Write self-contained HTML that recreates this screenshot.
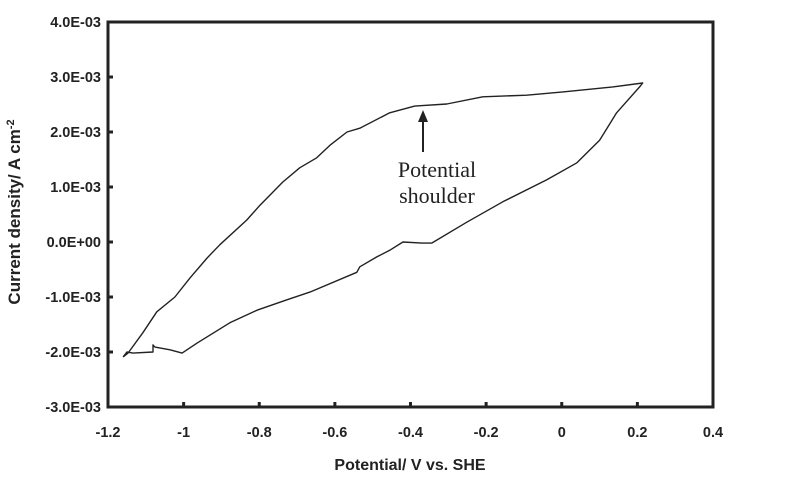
<!DOCTYPE html>
<html><head><meta charset="utf-8"><style>
body{margin:0;background:#fff}
svg{display:block}
.tk{font-family:"Liberation Sans",Arial,sans-serif;font-weight:bold;font-size:14.5px;fill:#222}
.ti{font-family:"Liberation Sans",Arial,sans-serif;font-weight:bold;font-size:16px;fill:#222}
.an{font-family:"Liberation Serif",serif;font-size:22px;fill:#222}
</style></head><body>
<svg id="chart" width="790" height="481" viewBox="0 0 790 481">
<g id="axes"></g>
<g id="series"></g>
<g>
<line x1="423" y1="152" x2="423" y2="118" stroke="#222" stroke-width="2"/>
<polygon points="423,110 418,122 428,122" fill="#222"/>
<text class="an" x="437" y="177" text-anchor="middle">Potential</text>
<text class="an" x="437" y="203" text-anchor="middle">shoulder</text>
</g>
<text class="ti" x="410" y="470" text-anchor="middle">Potential/ V vs. SHE</text>
<text class="ti" transform="translate(20,212) rotate(-90)" text-anchor="middle" font-size="17" style="font-size:17px">Current density/ A cm<tspan dy="-6" font-size="11">-2</tspan></text>
</svg>
<script>
const xTicks=[-1.2,-1,-0.8,-0.6,-0.4,-0.2,0,0.2,0.4];
const xTickLabels=["-1.2","-1","-0.8","-0.6","-0.4","-0.2","0","0.2","0.4"];
const yTicks=[4,3,2,1,0,-1,-2,-3];
const yTickLabels=["4.0E-03","3.0E-03","2.0E-03","1.0E-03","0.0E+00","-1.0E-03","-2.0E-03","-3.0E-03"];
const potential=[-1.160,-1.147,-1.108,-1.071,-1.023,-0.983,-0.938,-0.904,-0.833,-0.798,-0.738,-0.693,-0.648,-0.613,-0.568,-0.534,-0.455,-0.389,-0.304,-0.209,-0.093,0.003,0.135,0.214,0.206,0.145,0.100,0.040,-0.040,-0.156,-0.251,-0.344,-0.370,-0.420,-0.455,-0.489,-0.534,-0.542,-0.666,-0.727,-0.806,-0.878,-0.965,-1.004,-1.036,-1.076,-1.081,-1.081,-1.134,-1.150,-1.160];
const currentDensity=[-2.09,-2.02,-1.65,-1.27,-1.0,-0.65,-0.29,-0.05,0.4,0.67,1.09,1.35,1.53,1.76,2.0,2.07,2.35,2.47,2.51,2.64,2.67,2.73,2.82,2.89,2.82,2.35,1.85,1.44,1.13,0.73,0.36,-0.02,-0.02,0.0,-0.15,-0.27,-0.45,-0.55,-0.91,-1.05,-1.24,-1.47,-1.84,-2.02,-1.96,-1.91,-1.87,-2.0,-2.02,-2.0,-2.09];
const X0=108,X1=713,Y0=22,Y1=407;
const sx=v=>X0+(v+1.2)/1.6*(X1-X0);
const sy=v=>Y0+(4-v)/7*(Y1-Y0);
const NS="http://www.w3.org/2000/svg";
const ax=document.getElementById('axes');
function mk(t,a,p){const e=document.createElementNS(NS,t);for(const k in a)e.setAttribute(k,a[k]);p.appendChild(e);return e;}
const box=mk('rect',{x:X0,y:Y0,width:X1-X0,height:Y1-Y0,fill:'none',stroke:'#222','stroke-width':3},ax);


xTicks.forEach((v,i)=>{
 const l=mk('line',{x1:sx(v),x2:sx(v),y1:Y1,y2:Y1-5,stroke:'#222','stroke-width':3},ax);
 
 
 const t=mk('text',{x:sx(v),y:Y1+30,'text-anchor':'middle',class:'tk'},ax);
 t.textContent=xTickLabels[i];
 
 
});
yTicks.forEach((v,i)=>{
 const l=mk('line',{x1:X0,x2:X0+5,y1:sy(v),y2:sy(v),stroke:'#222','stroke-width':3},ax);
 
 
 const t=mk('text',{x:X0-7,y:sy(v)+5,'text-anchor':'end',class:'tk'},ax);
 t.textContent=yTickLabels[i];
 
 
});
const d=potential.map((v,i)=>(i?'L':'M')+sx(v).toFixed(1)+','+sy(currentDensity[i]).toFixed(1)).join(' ');
const p=mk('path',{d:d,fill:'none',stroke:'#222','stroke-width':1.4,'stroke-linejoin':'round'},document.getElementById('series'));


</script>
</body></html>
